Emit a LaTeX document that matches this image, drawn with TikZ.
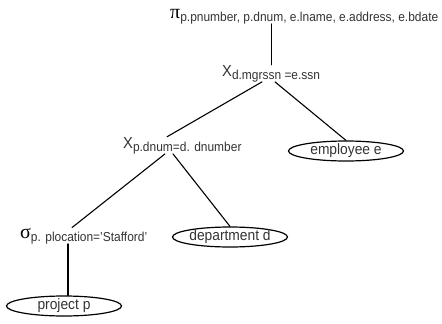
\documentclass[tikz,border=0pt]{standalone}
\usepackage{fontspec}
\setmainfont{Liberation Sans}[FakeStretch=0.92]
\newfontfamily\greekfont{Liberation Serif}
\usetikzlibrary{shapes.geometric}
\newcommand{\opsym}[1]{{\greekfont\fontsize{20}{20}\selectfont\color{black}#1}}
\newcommand{\joinsym}{{\fontsize{16}{16}\selectfont X}}
\newcommand{\opsub}[1]{{\fontsize{13}{13}\selectfont\raisebox{-3pt}{#1}}}
\tikzset{
  op/.style={inner sep=0pt, anchor=base west, text=black!80}, % operator labels
  relation/.style={draw, ellipse, line width=1.2pt, minimum width=115pt, minimum height=20pt,
    inner sep=0pt, text=black!80, font=\fontsize{15}{16}\selectfont}, % base relations
  branch/.style={line width=1.1pt, line cap=round},
}
\begin{document}
\begin{tikzpicture}[x=1pt, y=-1pt]
    \useasboundingbox (0,0) rectangle (442,324);
    \node[op] (proj) at (170,18) {\opsym{π}\opsub{p.pnumber, p.dnum, e.lname, e.address, e.bdate}};
    \node[op] (mgrjoin) at (222,76) {\joinsym\opsub{d.mgrssn =e.ssn}};
    \node[op] (dnumjoin) at (123,148) {\joinsym\opsub{p.dnum=d. dnumber}};
    \node[op] (sel) at (20,238) {\opsym{σ}\opsub{p. plocation='Stafford'}};
    \node[relation] (emp) at (346,151) {employee e};
    \node[relation] (dept) at (230,237) {department d};
    \node[relation] (prj) at (64,306) {project p};

    \draw[branch] (mgrjoin.north |- proj.south) -- (mgrjoin.north);
    \draw[branch] ([xshift=40pt]mgrjoin.south west) -- ([xshift=44pt]dnumjoin.north west);
    \draw[branch] ([xshift=53pt]mgrjoin.south west) -- (emp.north);
    \draw[branch] ([xshift=42pt]dnumjoin.south west) -- ([xshift=52pt]sel.north west);
    \draw[branch] ([xshift=50pt]dnumjoin.south west) -- (dept.north);
    \draw[branch] ([xshift=4pt]sel.south -| prj.north) -- ([xshift=4pt]prj.north);
\end{tikzpicture}
\end{document}
